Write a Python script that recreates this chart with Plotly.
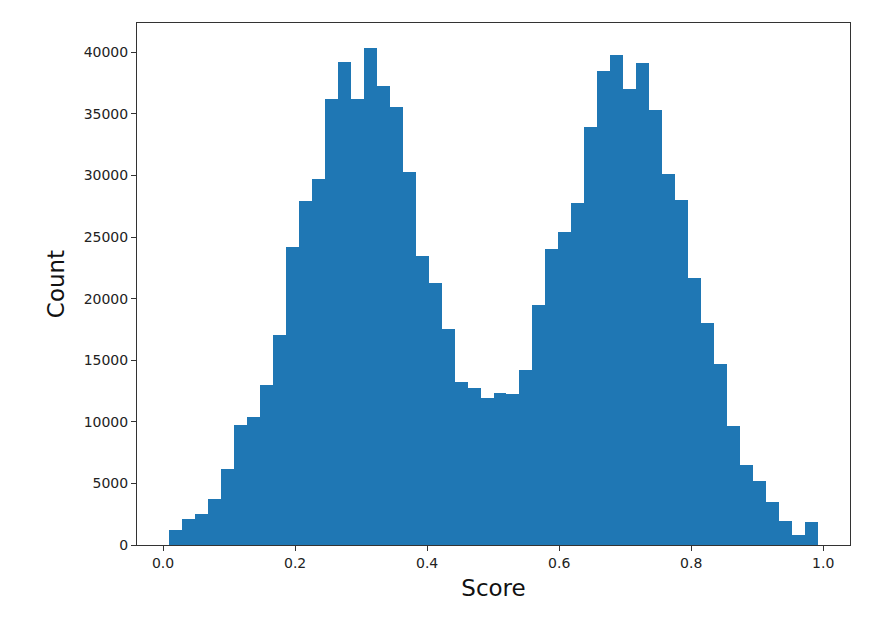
import numpy as np
import plotly.graph_objects as go

# histogram of scores, 50 equal bins
BIN_START = 0.0096
BIN_END = 0.9915
COUNTS = [
    1230, 2150, 2540, 3710, 6160, 9750, 10420, 13020, 17030, 24160,
    27900, 29710, 36200, 39190, 36200, 40360, 37240, 35540, 30270, 23500,
    21290, 17530, 13270, 12740, 11960, 12380, 12240, 14190, 19450, 24030,
    25450, 27790, 33970, 38520, 39800, 36980, 39160, 35280, 30100, 28040,
    21710, 18060, 14720, 9640, 6520, 5210, 3460, 1980, 840, 1870,
]
X_TICKS = [0.0, 0.2, 0.4, 0.6, 0.8, 1.0]
Y_TICKS = list(range(0, 40001, 5000))

BAR_COLOR = '#1f77b4'

edges = np.linspace(BIN_START, BIN_END, len(COUNTS) + 1)
centers = (edges[:-1] + edges[1:]) / 2
width = edges[1] - edges[0]

fig = go.Figure(go.Bar(
    x=centers, y=COUNTS, width=width,
    marker=dict(color=BAR_COLOR, line=dict(width=0)),
    hoverinfo='x+y',
))

span = BIN_END - BIN_START
axis_common = dict(
    showgrid=False, zeroline=False, showline=True, mirror=True,
    linecolor='#333333', linewidth=1,
    ticks='outside', ticklen=5, tickwidth=1, tickcolor='#333333',
    tickfont=dict(family='DejaVu Sans', size=14, color='#222222'),
)

# the page body adds an 8px offset, so margins are shifted to compensate
fig.update_layout(
    width=896, height=622,
    margin=dict(l=129, r=54, t=15, b=85),
    plot_bgcolor='white', paper_bgcolor='white',
    bargap=0, showlegend=False,
    xaxis=dict(
        range=[BIN_START - 0.05 * span, BIN_END + 0.05 * span],
        tickvals=X_TICKS, ticktext=[f'{v:.1f}' for v in X_TICKS],
        title=dict(text='Score', font=dict(family='DejaVu Sans', size=23, color='#111111'), standoff=10),
        **axis_common,
    ),
    yaxis=dict(
        range=[0, max(COUNTS) * 1.05],
        tickvals=Y_TICKS, ticktext=[str(v) for v in Y_TICKS],
        title=dict(text='Count', font=dict(family='DejaVu Sans', size=23, color='#111111'), standoff=12),
        **axis_common,
    ),
)

fig.write_html("out.html")
